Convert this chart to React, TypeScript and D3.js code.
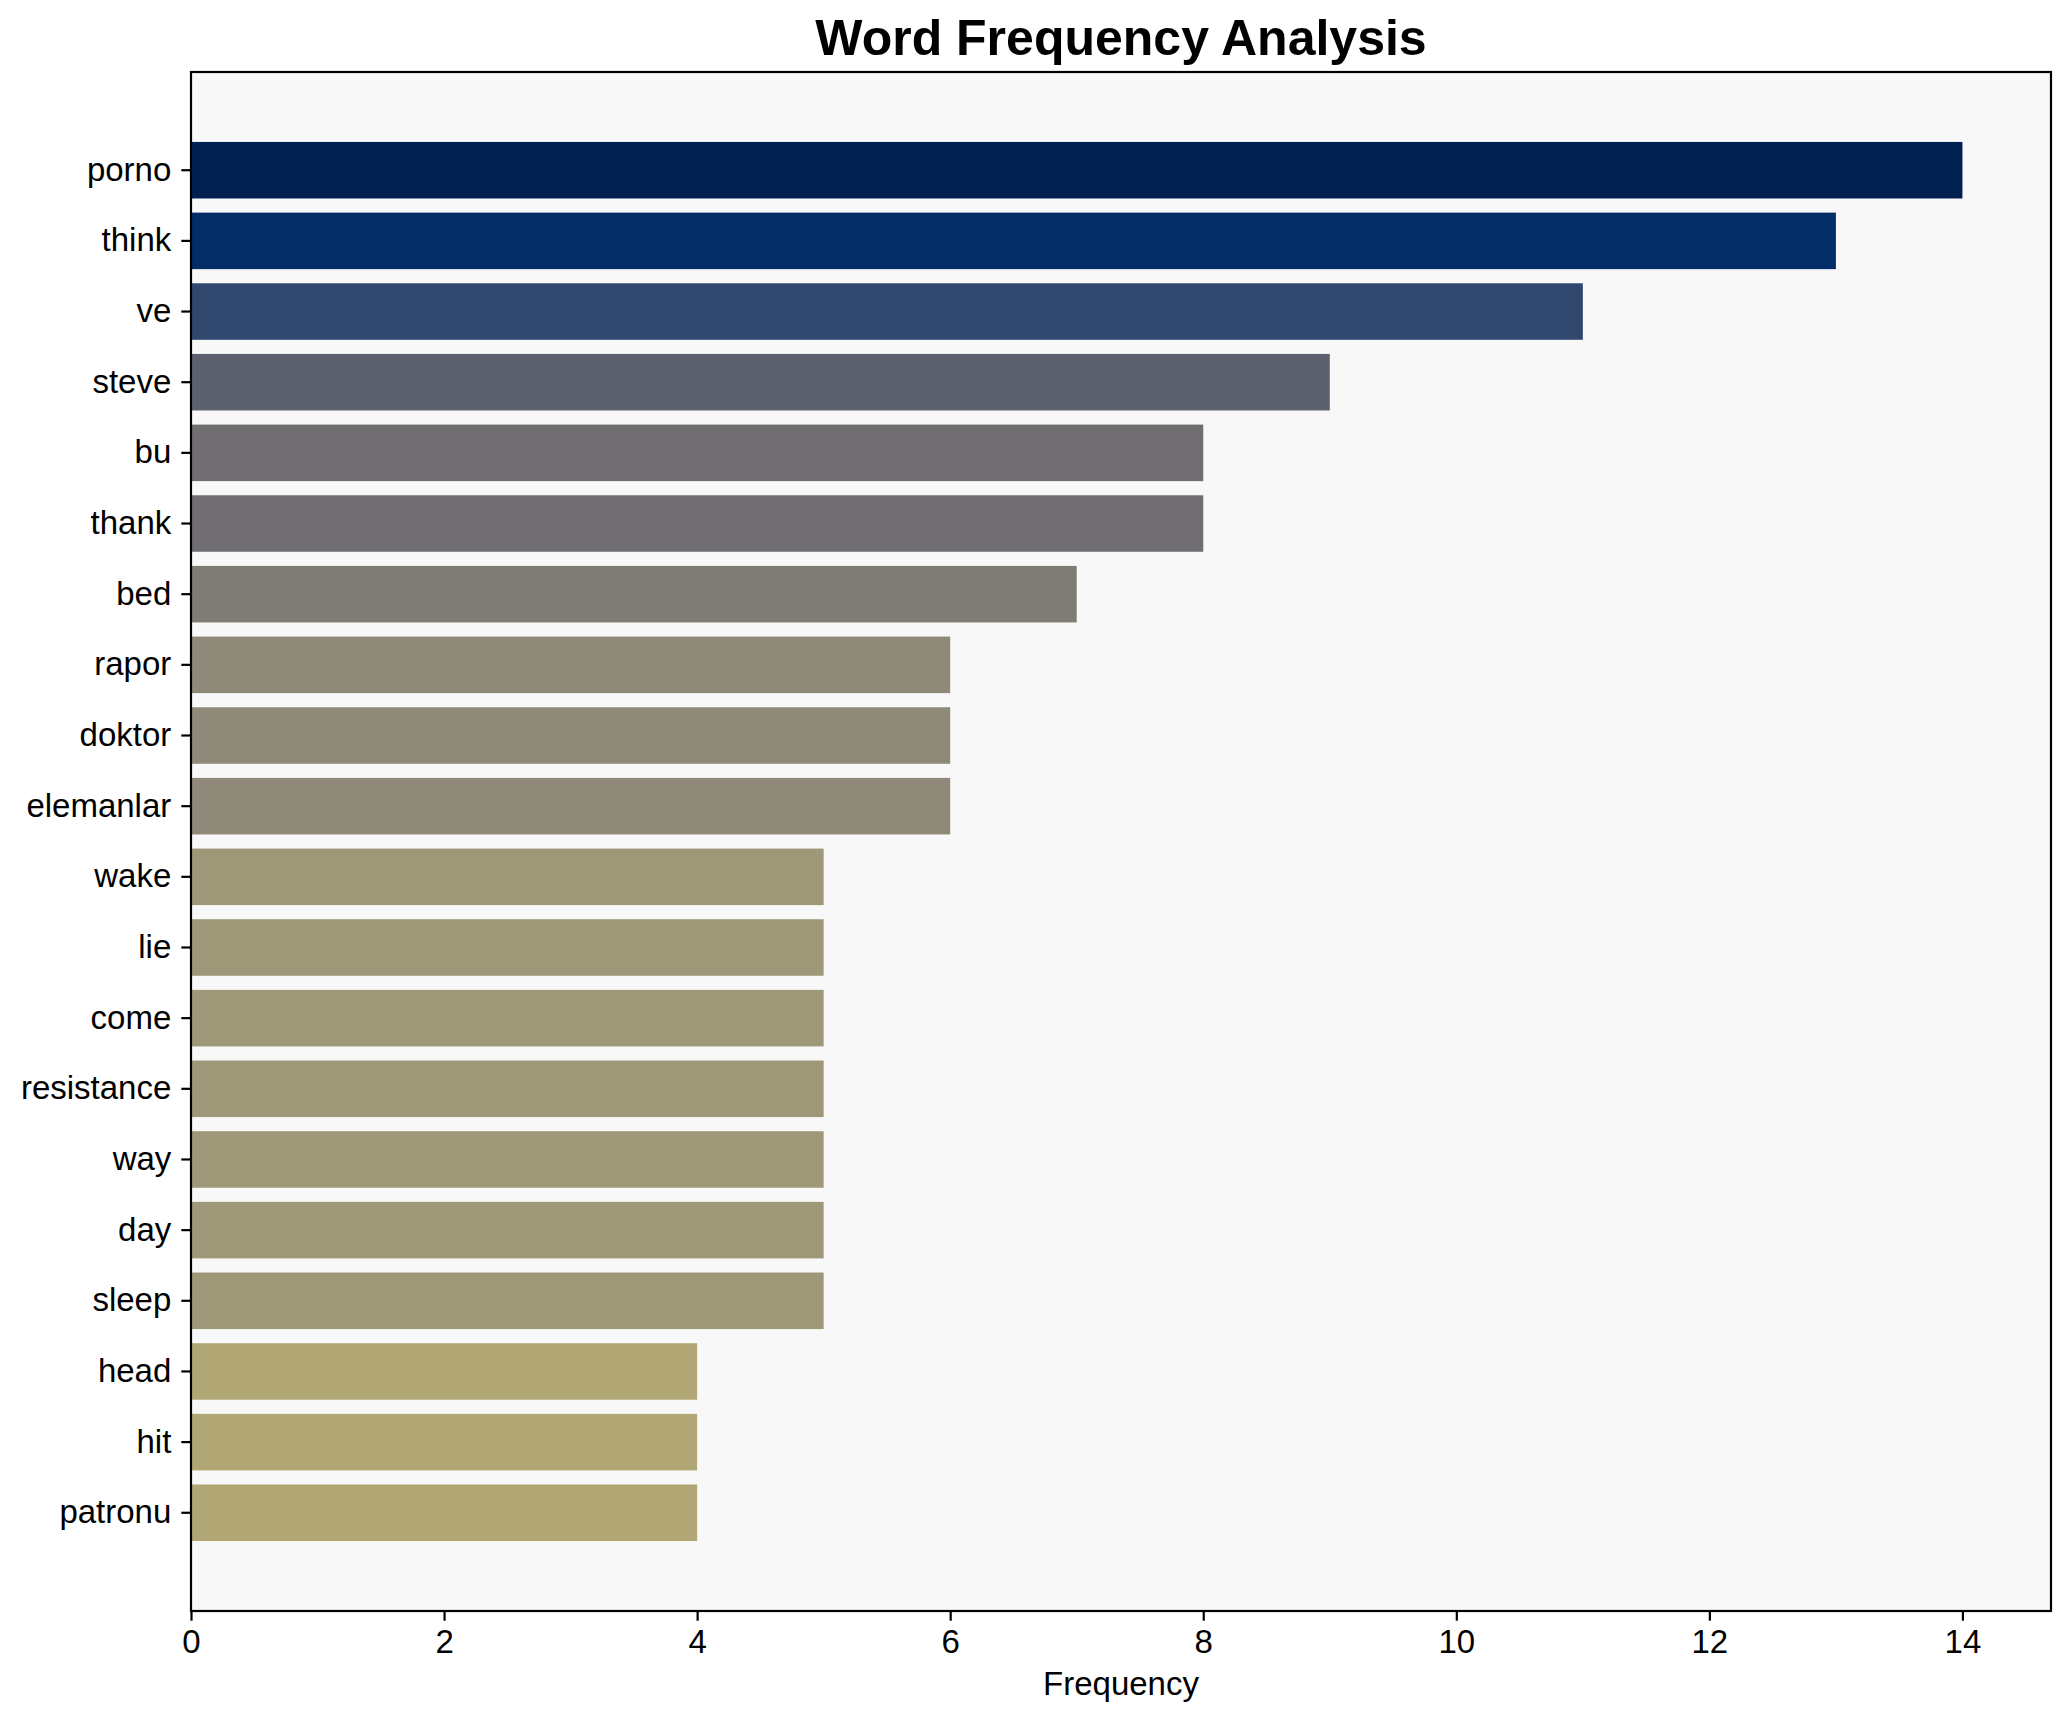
import React, { useEffect, useRef } from 'react';
import * as d3 from 'd3';

// word frequencies, top to bottom
const words = [
  'porno', 'think', 've', 'steve', 'bu', 'thank', 'bed', 'rapor', 'doktor', 'elemanlar',
  'wake', 'lie', 'come', 'resistance', 'way', 'day', 'sleep', 'head', 'hit', 'patronu',
];
const counts = [14, 13, 11, 9, 8, 8, 7, 6, 6, 6, 5, 5, 5, 5, 5, 5, 5, 4, 4, 4];
const xTicks = [0, 2, 4, 6, 8, 10, 12, 14];

const W = 2071;
const H = 1722;
const margin = { left: 191, right: 20, top: 72, bottom: 111 };
const font = '"Liberation Sans", Arial, sans-serif';

const App: React.FC = () => {
  const svgRef = useRef<SVGSVGElement>(null);

  useEffect(() => {
    if (!svgRef.current) return;
    const svg = d3.select(svgRef.current);
    svg.selectAll('*').remove();

    const x0 = margin.left;
    const x1 = W - margin.right;
    const y0 = margin.top;
    const y1 = H - margin.bottom;

    const maxCount = d3.max(counts) as number;
    const x = d3.scaleLinear().domain([0, maxCount * 1.05]).range([x0, x1]);
    const y = d3.scaleBand<string>().domain(words).range([y0, y1])
      .paddingInner(0.2).paddingOuter(0.99);
    const color = d3.scaleSequential(d3.interpolateCividis).domain([maxCount, 0]);

    svg.append('rect').attr('width', W).attr('height', H).attr('fill', '#ffffff');

    // plot area
    svg.append('rect')
      .attr('x', x0).attr('y', y0)
      .attr('width', x1 - x0).attr('height', y1 - y0)
      .attr('fill', '#f8f8f8');

    // bars
    svg.append('g')
      .selectAll('rect')
      .data(words)
      .enter()
      .append('rect')
      .attr('x', x(0))
      .attr('y', d => y(d) as number)
      .attr('width', (_, i) => x(counts[i]) - x(0))
      .attr('height', y.bandwidth())
      .attr('fill', (_, i) => color(counts[i]));

    // frame
    svg.append('rect')
      .attr('x', x0).attr('y', y0)
      .attr('width', x1 - x0).attr('height', y1 - y0)
      .attr('fill', 'none')
      .attr('stroke', '#000')
      .attr('stroke-width', 2.2);

    // x axis
    const xAxis = svg.append('g')
      .attr('transform', `translate(0,${y1})`)
      .call(d3.axisBottom(x).tickValues(xTicks).tickSize(9.7).tickPadding(9).tickFormat(d3.format('d')));
    xAxis.select('.domain').remove();
    xAxis.selectAll('line').attr('stroke', '#000').attr('stroke-width', 2.2);
    xAxis.selectAll('text')
      .attr('font-family', font).attr('font-size', 33).attr('fill', '#000');

    // y axis
    const yAxis = svg.append('g')
      .attr('transform', `translate(${x0},0)`)
      .call(d3.axisLeft(y).tickSize(9.7).tickPadding(10));
    yAxis.select('.domain').remove();
    yAxis.selectAll('line').attr('stroke', '#000').attr('stroke-width', 2.2);
    yAxis.selectAll('text')
      .attr('font-family', font).attr('font-size', 33).attr('fill', '#000');

    svg.append('text')
      .attr('x', (x0 + x1) / 2).attr('y', 1695)
      .attr('text-anchor', 'middle')
      .attr('font-family', font).attr('font-size', 33)
      .text('Frequency');

    svg.append('text')
      .attr('x', (x0 + x1) / 2).attr('y', y0 - 16.7)
      .attr('text-anchor', 'middle')
      .attr('font-family', font).attr('font-size', 50).attr('font-weight', 'bold')
      .text('Word Frequency Analysis');
  }, []);

  return (
    <svg
      ref={svgRef}
      width={W}
      height={H}
      viewBox={`0 0 ${W} ${H}`}
      style={{ position: 'absolute', left: 0, top: 0, display: 'block' }}
    />
  );
};

export default App;
